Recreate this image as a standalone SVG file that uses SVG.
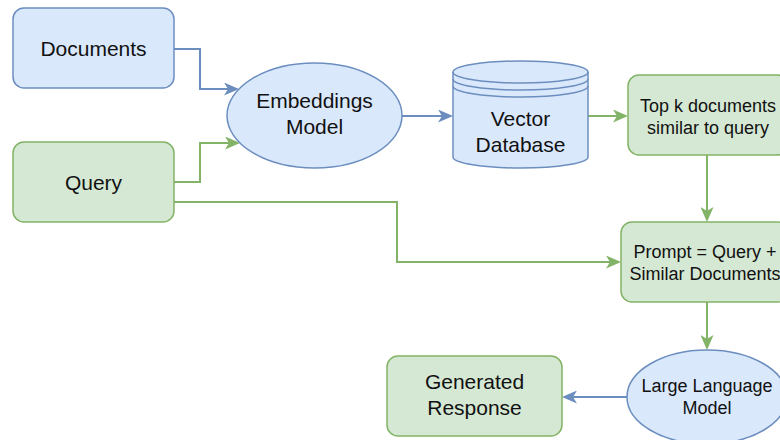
<svg xmlns="http://www.w3.org/2000/svg" width="780" height="440" viewBox="0 0 780 440">
<style>
.blue{fill:#dae8fc;stroke:#6c8ebf;stroke-width:1.5}
.green{fill:#d5e8d4;stroke:#82b366;stroke-width:1.5}
.t{font-family:"Liberation Sans",Arial,Helvetica,sans-serif;fill:#111;text-anchor:middle}
.l{font-size:21px}
.s{font-size:18px}
.cb{fill:none;stroke:#6c8ebf;stroke-width:2}
.cg{fill:none;stroke:#82b366;stroke-width:2}
</style>
<defs>
<marker id="ab" viewBox="0 0 15 13" markerWidth="15" markerHeight="13" refX="11" refY="6.5" orient="auto" markerUnits="userSpaceOnUse"><path d="M0,0 L15,6.5 L0,13 L4,6.5 Z" fill="#6c8ebf"/></marker>
<marker id="ag" viewBox="0 0 15 13" markerWidth="15" markerHeight="13" refX="11" refY="6.5" orient="auto" markerUnits="userSpaceOnUse"><path d="M0,0 L15,6.5 L0,13 L4,6.5 Z" fill="#82b366"/></marker>
</defs>
<g id="connectors">
<path class="cb" d="M174,49 H200 V89 H235" marker-end="url(#ab)"/>
<path class="cg" d="M174,182 H200 V143 H236" marker-end="url(#ag)"/>
<path class="cg" d="M174,202 H397 V262 H617" marker-end="url(#ag)"/>
<path class="cb" d="M402,116 H449" marker-end="url(#ab)"/>
<path class="cg" d="M588,116 H624" marker-end="url(#ag)"/>
<path class="cg" d="M707,155 V218" marker-end="url(#ag)"/>
<path class="cg" d="M707,302 V346" marker-end="url(#ag)"/>
<path class="cb" d="M627,397 H566" marker-end="url(#ab)"/>
</g>
<g id="documents">
<rect class="blue" x="13" y="8" width="161" height="80" rx="11"/>
<text class="t l" x="93.5" y="55.5">Documents</text>
</g>
<g id="query">
<rect class="green" x="13" y="142" width="161" height="80" rx="11"/>
<text class="t l" x="93.5" y="189.5">Query</text>
</g>
<g id="embeddings">
<ellipse class="blue" cx="314.5" cy="115.5" rx="87.5" ry="52.5"/>
<text class="t l" x="314.5" y="108">Embeddings</text>
<text class="t l" x="314.5" y="134">Model</text>
</g>
<g id="vectordb">
<path class="blue" d="M453,72 A67.5,11 0 0 1 588,72 V157 A67.5,11 0 0 1 453,157 Z"/>
<path class="blue" style="fill:none" d="M453,72 A67.5,11 0 0 0 588,72 M453,79 A67.5,11 0 0 0 588,79 M453,86 A67.5,11 0 0 0 588,86"/>
<text class="t l" x="520.5" y="126">Vector</text>
<text class="t l" x="520.5" y="151.5">Database</text>
</g>
<g id="topk">
<rect class="green" x="628" y="75" width="160" height="80" rx="11"/>
<text class="t s" x="708" y="111.5">Top k documents</text>
<text class="t s" x="708" y="133.5">similar to query</text>
</g>
<g id="prompt">
<rect class="green" x="621" y="222" width="168" height="80" rx="11"/>
<text class="t s" x="705" y="258">Prompt = Query +</text>
<text class="t s" x="705" y="280">Similar Documents</text>
</g>
<g id="llm">
<ellipse class="blue" cx="707" cy="397" rx="80" ry="47"/>
<text class="t s" x="707" y="392">Large Language</text>
<text class="t s" x="707" y="414">Model</text>
</g>
<g id="response">
<rect class="green" x="387" y="356" width="175" height="80" rx="11"/>
<text class="t l" x="474.5" y="389">Generated</text>
<text class="t l" x="474.5" y="415">Response</text>
</g>
</svg>
